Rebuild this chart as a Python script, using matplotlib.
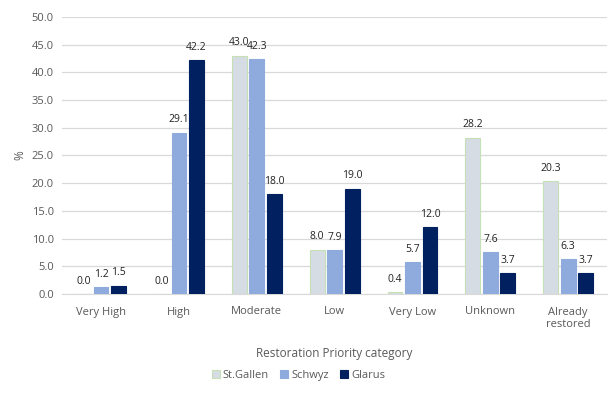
import numpy as np
import matplotlib
matplotlib.use('Agg')
import matplotlib.pyplot as plt

categories = ['Very High', 'High', 'Moderate', 'Low', 'Very Low', 'Unknown', 'Already\nrestored']
st_gallen = [0.0, 0.0, 43.0, 8.0, 0.4, 28.2, 20.3]
schwyz = [1.2, 29.1, 42.3, 7.9, 5.7, 7.6, 6.3]
glarus = [1.5, 42.2, 18.0, 19.0, 12.0, 3.7, 3.7]

plt.rcParams['font.family'] = ['Open Sans', 'DejaVu Sans']
grey = '#595959'

fig = plt.figure(figsize=(6.09, 4.0), dpi=100)
ax = fig.add_axes([0.102, 0.265, 0.895, 0.693])

x = np.arange(len(categories))
w = 0.19
off = 0.225
series = [
    ('St.Gallen', st_gallen, '#d6dce4', '#c5e0b4'),
    ('Schwyz', schwyz, '#8faadc', '#8faadc'),
    ('Glarus', glarus, '#002060', '#002060'),
]
for i, (name, vals, fc, ec) in enumerate(series):
    pos = x + (i - 1) * off
    ax.bar(pos, vals, w, color=fc, edgecolor=ec, linewidth=0.8, label=name, zorder=3)
    for p, v in zip(pos, vals):
        ax.text(p, v + 1.3, f'{v:.1f}', ha='center', va='bottom', fontsize=7.5, color='#222222')

ax.set_xlim(-0.5, len(categories) - 0.5)
ax.set_ylim(0, 50)
ax.set_yticks(np.arange(0, 50.1, 5))
ax.set_yticklabels([f'{t:.1f}' for t in np.arange(0, 50.1, 5)])
ax.set_xticks(x)
ax.set_xticklabels(categories)
ax.tick_params(axis='both', length=0, labelsize=8, colors=grey)
ax.tick_params(axis='x', pad=9)
ax.tick_params(axis='y', pad=6)
ax.yaxis.grid(True, color='#d9d9d9', linewidth=0.9, zorder=0)
for s in ['top', 'right', 'left']:
    ax.spines[s].set_visible(False)
ax.spines['bottom'].set_color('#d9d9d9')
ax.set_ylabel('%', fontsize=8.5, color=grey, labelpad=4)
ax.set_xlabel('Restoration Priority category', fontsize=8.5, color=grey, labelpad=12)

fig.legend(loc='center', bbox_to_anchor=(0.49, 0.062), ncol=3, frameon=False,
           fontsize=8, handlelength=0.7, handleheight=0.7, handletextpad=0.3,
           columnspacing=1.0, labelcolor=grey)

fig.savefig('out.png', dpi=100)
